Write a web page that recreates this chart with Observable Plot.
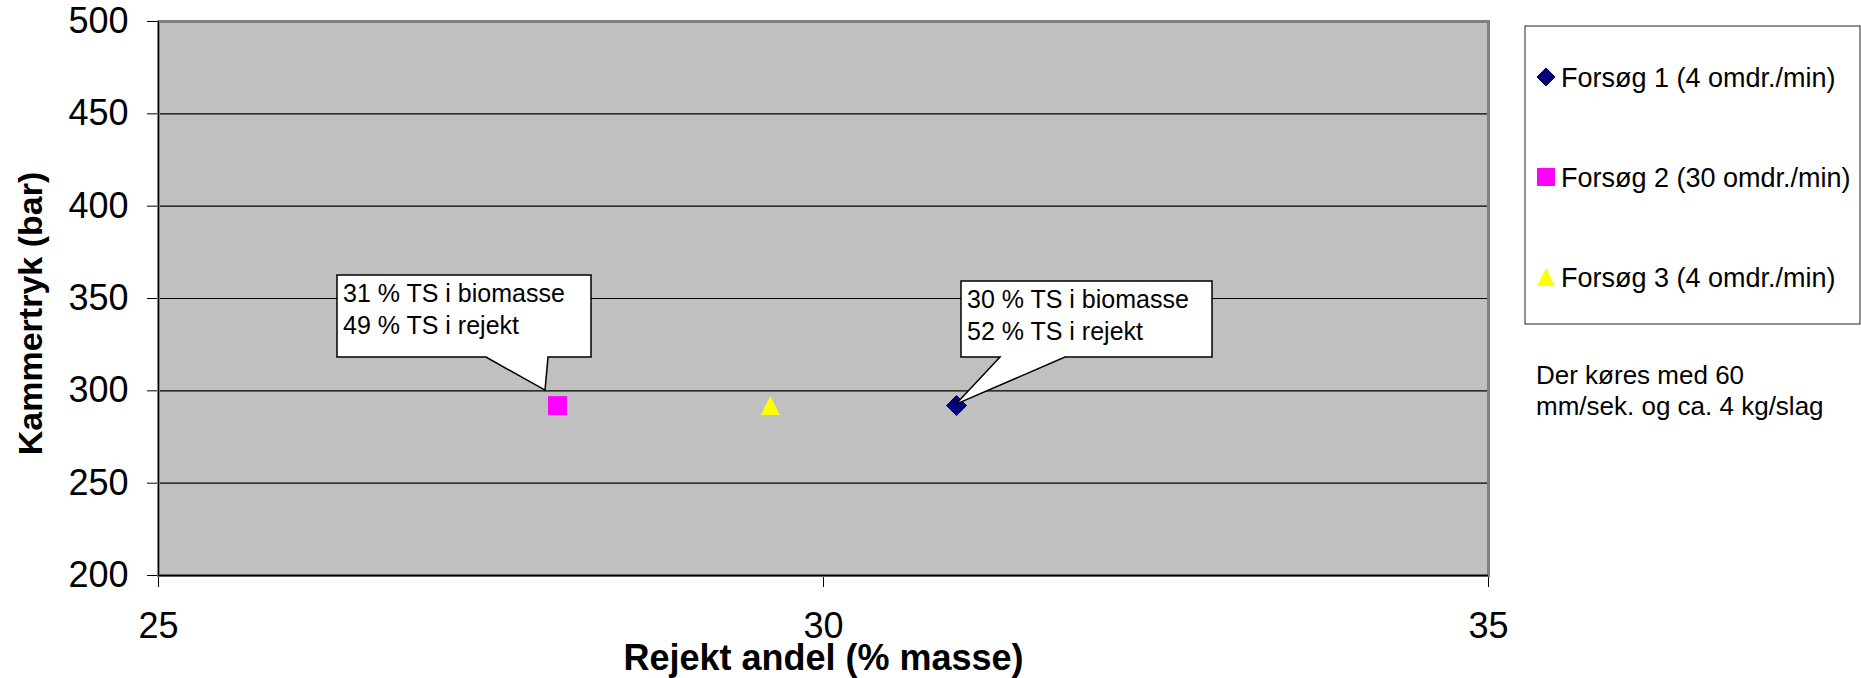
<!DOCTYPE html>
<html>
<head>
<meta charset="utf-8">
<script src="https://cdn.jsdelivr.net/npm/d3@7"></script>
<script src="https://cdn.jsdelivr.net/npm/@observablehq/plot@0.6"></script>
<style>
  html, body { margin: 0; padding: 0; background: #ffffff; }
  #chart svg { display: block; }
</style>
</head>
<body>
<div id="chart"></div>
<script>
// Series: trials with the screw press
const seriesNames = ["Forsøg 1 (4 omdr./min)", "Forsøg 2 (30 omdr./min)", "Forsøg 3 (4 omdr./min)"];
const rejektAndel = [31.0, 28.0, 29.6];   // % masse
const kammertryk = [292, 292, 292];       // bar

// Callout texts, attached to series index
const calloutSeries = [1, 0];
const calloutLines = [
  ["31 % TS i biomasse", "49 % TS i rejekt"],
  ["30 % TS i biomasse", "52 % TS i rejekt"]
];

const noteLines = ["Der køres med 60", "mm/sek. og ca. 4 kg/slag"];

const xTicks = [25, 30, 35];
const yTicks = [200, 250, 300, 350, 400, 450, 500];
const xTitle = "Rejekt andel (% masse)";
const yTitle = "Kammertryk (bar)";

// Styling
const FONT = "'Liberation Sans', Arial, Helvetica, sans-serif";
const seriesFill = ["#000080", "#FF00FF", "#FFFF00"];
const seriesStroke = ["#000040", "none", "none"];

// Marker shapes centred on their bounding box; r = half width
const radiusOf = size => Math.sqrt(size / Math.PI);
const diamond = { draw(ctx, size) { const r = radiusOf(size); ctx.moveTo(0, -r); ctx.lineTo(r, 0); ctx.lineTo(0, r); ctx.lineTo(-r, 0); ctx.closePath(); } };
const square = { draw(ctx, size) { const r = radiusOf(size); ctx.rect(-r, -r, 2 * r, 2 * r); } };
const triangle = { draw(ctx, size) { const r = radiusOf(size); ctx.moveTo(0, -r); ctx.lineTo(r, r); ctx.lineTo(-r, r); ctx.closePath(); } };
const seriesSymbol = [diamond, square, triangle];
const seriesR = [10, 9.5, 9.5];

const points = seriesNames.map((name, i) => ({ name, x: rejektAndel[i], y: kammertryk[i], i }));

// Callout balloons: box and wedge offsets (px) relative to the point
const calloutGeom = [
  { left: -220, right: 34, top: -130, bottom: -48, w1: -71, w2: -9, tip: [-12, -15] },
  { left: 5, right: 256, top: -124, bottom: -48, w1: 44, w2: 109, tip: [0, -1] }
];

function calloutMark(index, scales) {
  const g = d3.create("svg:g");
  calloutSeries.forEach((s, k) => {
    const px = scales.x(rejektAndel[s]);
    const py = scales.y(kammertryk[s]);
    const c = calloutGeom[k];
    const path = d3.path();
    path.moveTo(px + c.left, py + c.top);
    path.lineTo(px + c.right, py + c.top);
    path.lineTo(px + c.right, py + c.bottom);
    path.lineTo(px + c.w2, py + c.bottom);
    path.lineTo(px + c.tip[0], py + c.tip[1]);
    path.lineTo(px + c.w1, py + c.bottom);
    path.lineTo(px + c.left, py + c.bottom);
    path.closePath();
    g.append("path").attr("d", path.toString())
      .attr("fill", "#ffffff").attr("stroke", "#000000").attr("stroke-width", 1.5)
      .attr("stroke-linejoin", "miter");
    calloutLines[k].forEach((line, j) => {
      g.append("text")
        .attr("x", px + c.left + 6)
        .attr("y", py + c.top + 27 + j * 32)
        .attr("text-anchor", "start")
        .attr("font-family", FONT).attr("font-size", 25).attr("fill", "#000")
        .text(line);
    });
  });
  return g.node();
}

function legendMark(index, scales, values, dimensions) {
  const g = d3.create("svg:g");
  const x0 = dimensions.width - 336, y0 = 26;
  g.append("rect").attr("x", x0).attr("y", y0).attr("width", 335).attr("height", 298)
    .attr("fill", "#ffffff").attr("stroke", "#222222").attr("stroke-width", 1);
  seriesNames.forEach((name, i) => {
    const cy = y0 + 51 + i * 100;
    g.append("path")
      .attr("transform", `translate(${x0 + 21},${cy})`)
      .attr("d", d3.symbol(seriesSymbol[i], Math.PI * 9 * 9)())
      .attr("fill", seriesFill[i]).attr("stroke", seriesStroke[i]);
    g.append("text").attr("x", x0 + 36).attr("y", cy).attr("dy", "0.36em")
      .attr("text-anchor", "start")
      .attr("font-family", FONT).attr("font-size", 27).attr("fill", "#000").text(name);
  });
  noteLines.forEach((line, j) => {
    g.append("text").attr("x", x0 + 11).attr("y", 384 + j * 31)
      .attr("text-anchor", "start")
      .attr("font-family", FONT).attr("font-size", 26).attr("fill", "#000").text(line);
  });
  return g.node();
}

const chart = Plot.plot({
  width: 1861,
  height: 678,
  marginLeft: 158,
  marginRight: 373,
  marginTop: 21,
  marginBottom: 103,
  style: { fontFamily: FONT, fontSize: "36px", color: "#000", background: "#ffffff", overflow: "visible" },
  x: { domain: [25, 35], ticks: xTicks, tickSize: 12, tickPadding: 25, label: null, tickFormat: d3.format("d") },
  y: { domain: [200, 500], ticks: yTicks, tickSize: 11, tickPadding: 19, label: null, tickFormat: d3.format("d") },
  marks: [
    Plot.frame({ fill: "#C0C0C0" }),
    Plot.ruleY(yTicks.slice(1, -1), { stroke: "#000000", strokeWidth: 1.2 }),
    Plot.frame({ stroke: "#808080", strokeWidth: 3 }),
    Plot.ruleX([xTicks[0]], { stroke: "#000000", strokeWidth: 1 }),
    Plot.ruleY([yTicks[0]], { stroke: "#000000", strokeWidth: 1.5 }),
    ...seriesNames.map((_, i) => Plot.dot(points.filter(p => p.i === i), {
      x: "x", y: "y", r: seriesR[i], symbol: seriesSymbol[i],
      fill: seriesFill[i], stroke: seriesStroke[i], strokeWidth: 1
    })),
    calloutMark,
    legendMark,
    Plot.text([xTitle], { text: d => d, frameAnchor: "bottom", textAnchor: "middle", lineAnchor: "bottom", dy: 94, fontSize: 36, fontWeight: "bold", fill: "#000" }),
    Plot.text([yTitle], { text: d => d, frameAnchor: "left", textAnchor: "middle", lineAnchor: "middle", rotate: -90, dx: -127, dy: 15, fontSize: 34, fontWeight: "bold", fill: "#000" })
  ]
});

document.getElementById("chart").appendChild(chart);
</script>
</body>
</html>
